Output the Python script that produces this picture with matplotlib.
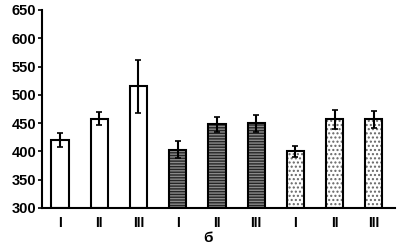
import matplotlib
matplotlib.use("Agg")
import matplotlib.pyplot as plt
import numpy as np

plt.rcParams["font.family"] = ["Liberation Sans", "DejaVu Sans"]

labels = ["I", "II", "III", "I", "II", "III", "I", "II", "III"]
values = [420, 458, 515, 403, 448, 450, 400, 457, 457]
errors = [13, 12, 47, 15, 13, 15, 10, 17, 15]
groups = ["open", "open", "open", "dark", "dark", "dark", "dot", "dot", "dot"]
yticks = [300, 350, 400, 450, 500, 550, 600, 650]

fig = plt.figure(figsize=(4, 2.5), dpi=100)
ax = fig.add_axes([0.105, 0.168, 0.8825, 0.792])
x = np.arange(len(values))
w = 0.44
for xi, v, g in zip(x, values, groups):
    h = v - 300
    if g == "open":
        ax.bar(xi, h, w, bottom=300, color="white", edgecolor="black", linewidth=1.5, zorder=2)
    elif g == "dark":
        ax.bar(xi, h, w, bottom=300, color="#262626", edgecolor="#8a8a8a", hatch="------", linewidth=0, zorder=2)
        ax.bar(xi, h, w, bottom=300, fill=False, edgecolor="black", linewidth=1.5, zorder=3)
    else:
        ax.bar(xi, h, w, bottom=300, color="white", edgecolor="#666666", hatch="....", linewidth=0, zorder=2)
        ax.bar(xi, h, w, bottom=300, fill=False, edgecolor="black", linewidth=1.5, zorder=3)
ax.errorbar(x, values, yerr=errors, fmt="none", ecolor="black", elinewidth=1.5, capsize=2, capthick=1.2, zorder=4)

ax.set_xlim(-0.46, 8.54)
ax.set_ylim(300, 650)
ax.set_yticks(yticks)
ax.set_yticklabels([str(t) for t in yticks], fontsize=10.5, fontweight="bold")
ax.set_xticks(x)
ax.set_xticklabels(labels, fontsize=10, fontweight="bold")
ax.tick_params(axis="x", length=0, pad=6)
ax.tick_params(axis="y", length=3, width=1.2, pad=1)
for s in ["top", "right"]:
    ax.spines[s].set_visible(False)
for s in ["left", "bottom"]:
    ax.spines[s].set_linewidth(1.5)
fig.text(0.52, 0.05, "б", fontsize=11, fontweight="bold", ha="center", va="center")
fig.savefig("out.png", dpi=100)
